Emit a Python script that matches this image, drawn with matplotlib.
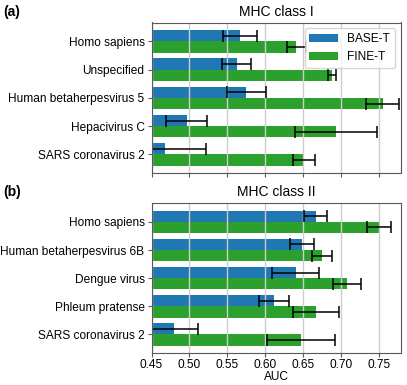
import numpy as np
import matplotlib.pyplot as plt

plt.rcParams['font.family'] = ['Liberation Sans', 'DejaVu Sans']
plt.rcParams['font.size'] = 8.6

# MHC class I
cats1 = ['Homo sapiens', 'Unspecified', 'Human betaherpesvirus 5',
         'Hepacivirus C', 'SARS coronavirus 2']
base1 = [0.5667, 0.5623, 0.5754, 0.4965, 0.4684]
base1_err = [0.0221, 0.0197, 0.0254, 0.0272, 0.0536]
fine1 = [0.6412, 0.6886, 0.7553, 0.6934, 0.6518]
fine1_err = [0.0125, 0.0055, 0.0219, 0.0537, 0.0147]

# MHC class II
cats2 = ['Homo sapiens', 'Human betaherpesvirus 6B', 'Dengue virus',
         'Phleum pratense', 'SARS coronavirus 2']
base2 = [0.6668, 0.6493, 0.6405, 0.6118, 0.4794]
base2_err = [0.0153, 0.0158, 0.0310, 0.0197, 0.0320]
fine2 = [0.7504, 0.6746, 0.7084, 0.6671, 0.6474]
fine2_err = [0.0158, 0.0131, 0.0187, 0.0307, 0.0447]

fig = plt.figure(figsize=(4.07, 3.85), dpi=100)
W, H = 407, 385
ax1 = fig.add_axes([151.5 / W, 1 - 172.5 / H, 249.5 / W, 150 / H])
ax2 = fig.add_axes([151.5 / W, 1 - 352.5 / H, 249.5 / W, 149.5 / H], sharex=ax1)


def panel(ax, cats, base, base_err, fine, fine_err, title):
    y = np.arange(len(cats))
    h = 0.4
    ekw = dict(ecolor='black', capsize=4, elinewidth=1.1, capthick=1.1)
    ax.barh(y - h / 2, base, height=h, color='tab:blue', xerr=base_err,
            error_kw=ekw, label='BASE-T')
    ax.barh(y + h / 2, fine, height=h, color='tab:green', xerr=fine_err,
            error_kw=ekw, label='FINE-T')
    ax.set_yticks(y)
    ax.set_yticklabels(cats)
    ax.set_ylim(len(cats) - 0.36, -0.67)
    ax.grid(axis='x', color='0.8', linewidth=1.0)
    for s in ax.spines.values():
        s.set_color('0.35')
    ax.tick_params(length=3, color='0.35')
    ax.tick_params(axis='y', pad=2)
    ax.set_title(title, fontsize=10, pad=5)


panel(ax1, cats1, base1, base1_err, fine1, fine1_err, 'MHC class I')
panel(ax2, cats2, base2, base2_err, fine2, fine2_err, 'MHC class II')

ax1.set_xlim(0.45, 0.7794)
ax1.set_xticks([0.45, 0.50, 0.55, 0.60, 0.65, 0.70, 0.75])
ax1.tick_params(axis='x', labelbottom=False)
ax2.tick_params(axis='x', pad=2)
ax2.set_xticklabels(['0.45', '0.50', '0.55', '0.60', '0.65', '0.70', '0.75'])
ax2.set_xlabel('AUC', labelpad=0)

ax1.legend(loc='upper right', fontsize=8.6, handlelength=2.4)

fig.text(0.008, 1 - 12 / H, '(a)', fontsize=10, fontweight='bold', va='center')
fig.text(0.008, 1 - 192 / H, '(b)', fontsize=10, fontweight='bold', va='center')

fig.savefig('out.png', dpi=100)
